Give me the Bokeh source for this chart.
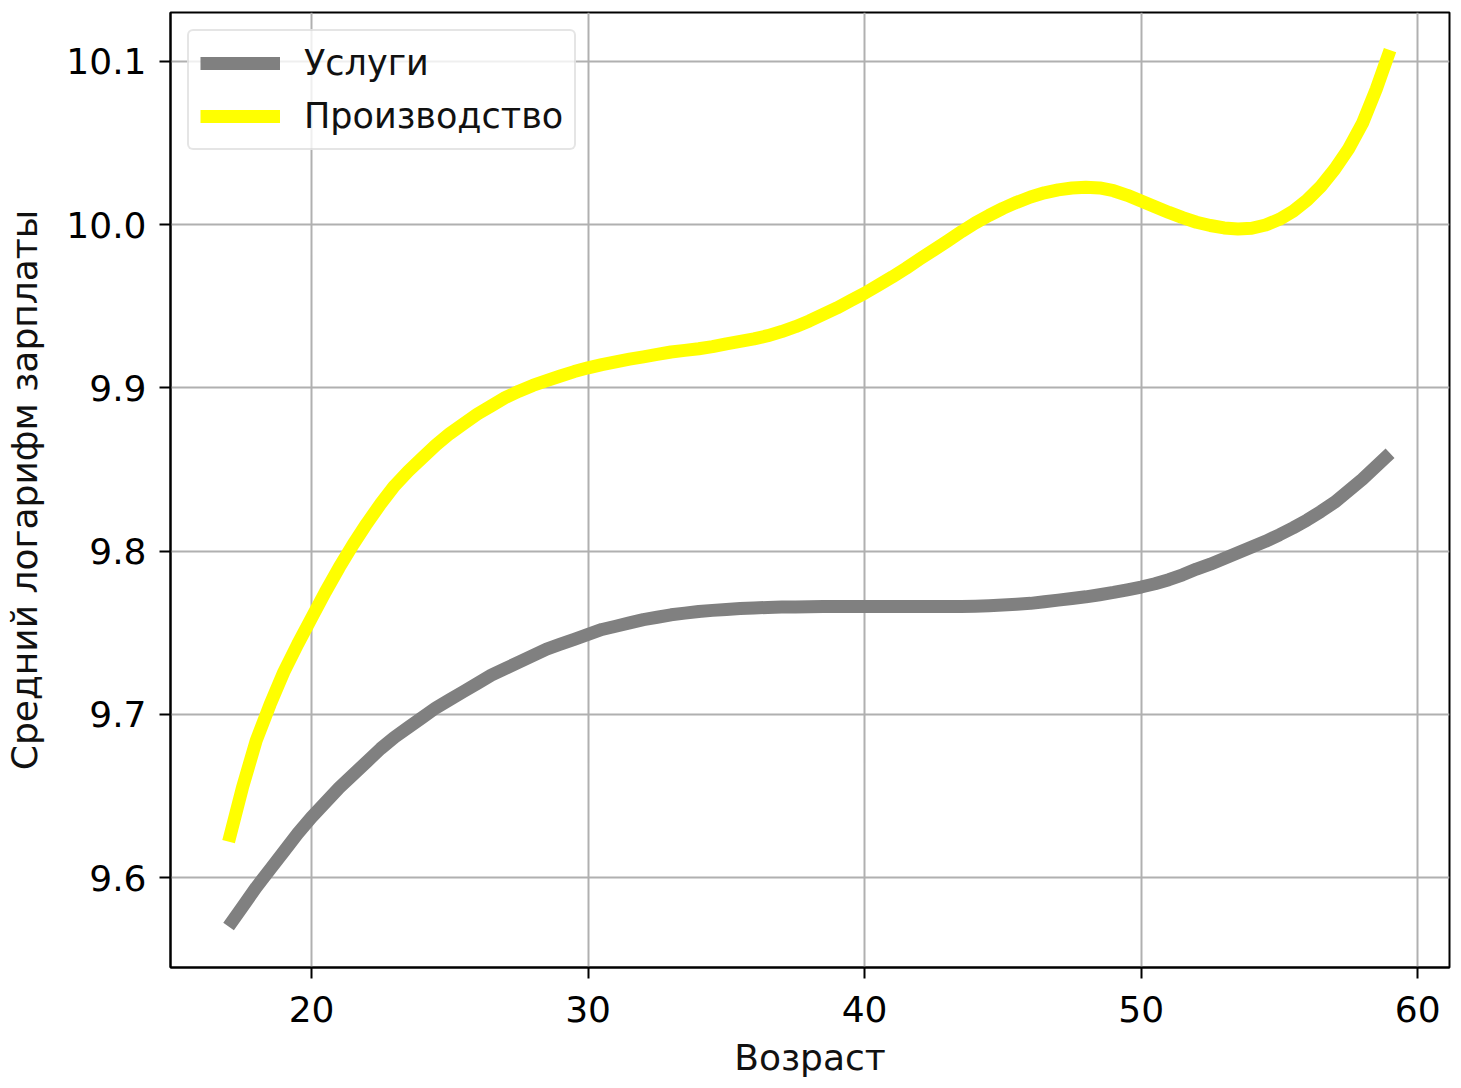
from bokeh.plotting import figure
from bokeh.models import Range1d, FixedTicker, Legend, LegendItem
from bokeh.embed import file_html
from bokeh.resources import INLINE

ages = [17 + 0.5 * i for i in range(85)]
services = [9.570, 9.582, 9.594, 9.605, 9.616, 9.627, 9.637, 9.646, 9.655, 9.663,
            9.671, 9.679, 9.686, 9.692, 9.698, 9.704, 9.709, 9.714, 9.719, 9.724,
            9.728, 9.732, 9.736, 9.740, 9.743, 9.746, 9.749, 9.752, 9.754, 9.756,
            9.758, 9.7595, 9.761, 9.762, 9.763, 9.7637, 9.7643, 9.7648, 9.7652, 9.7655,
            9.7657, 9.7658, 9.7659, 9.766, 9.766, 9.766, 9.766, 9.766, 9.766, 9.766,
            9.766, 9.766, 9.766, 9.7661, 9.7663, 9.7666, 9.767, 9.7675, 9.768, 9.769,
            9.770, 9.771, 9.772, 9.7733, 9.7747, 9.7763, 9.778, 9.780, 9.7825, 9.7855,
            9.789, 9.792, 9.7955, 9.799, 9.8025, 9.806, 9.810, 9.8143, 9.819, 9.8243,
            9.830, 9.837, 9.844, 9.852, 9.860]
manufacturing = [9.622, 9.655, 9.684, 9.706, 9.726, 9.743, 9.759, 9.775, 9.790, 9.804,
                 9.817, 9.829, 9.840, 9.849, 9.857, 9.865, 9.872, 9.878, 9.884, 9.889,
                 9.894, 9.898, 9.9015, 9.9045, 9.9073, 9.91, 9.9123, 9.9143, 9.916, 9.9176,
                 9.919, 9.9205, 9.922, 9.923, 9.924, 9.9253, 9.927, 9.9285, 9.930, 9.932,
                 9.9345, 9.9375, 9.941, 9.945, 9.949, 9.9535, 9.958, 9.963, 9.968, 9.9733,
                 9.979, 9.9845, 9.990, 9.9957, 10.001, 10.0057, 10.010, 10.0137, 10.017, 10.0195,
                 10.0213, 10.0225, 10.023, 10.0225, 10.0208, 10.018, 10.0145, 10.011, 10.0075, 10.0043,
                 10.0015, 9.9995, 9.998, 9.9973, 9.9978, 9.9998, 10.0033, 10.0083, 10.015, 10.0235,
                 10.034, 10.0465, 10.062, 10.083, 10.107]
series_names = ["Услуги", "Производство"]
series_colors = ["#808080", "#ffff00"]
x_ticks = [20, 30, 40, 50, 60]
y_ticks = [9.6, 9.7, 9.8, 9.9, 10.0, 10.1]
y_tick_labels = ["9.6", "9.7", "9.8", "9.9", "10.0", "10.1"]
x_label = "Возраст"
y_label = "Средний логарифм зарплаты"

FONT = "DejaVu Sans"
FS = "36px"

p = figure(width=1453, height=1086, output_backend="svg", toolbar_location=None,
           title=None,
           x_range=Range1d(14.9, 61.15), y_range=Range1d(9.5449, 10.130),
           min_border_left=170, min_border_right=4, min_border_top=12, min_border_bottom=119)
p.background_fill_color = "white"
p.border_fill_color = "white"
p.outline_line_color = "black"
p.outline_line_width = 2

r1 = p.line(ages, services, line_color=series_colors[0], line_width=13, line_join="round")
r2 = p.line(ages, manufacturing, line_color=series_colors[1], line_width=13, line_join="round")

p.xaxis.ticker = FixedTicker(ticks=x_ticks)
p.yaxis.ticker = FixedTicker(ticks=y_ticks)
p.yaxis.major_label_overrides = {t: l for t, l in zip(y_ticks, y_tick_labels)}
p.xaxis.major_label_overrides = {t: str(t) for t in x_ticks}

for ax in (p.xaxis[0], p.yaxis[0]):
    ax.axis_line_color = "black"
    ax.axis_line_width = 2
    ax.major_tick_line_color = "black"
    ax.major_tick_line_width = 2
    ax.major_tick_out = 11
    ax.major_tick_in = 0
    ax.minor_tick_line_color = None
    ax.major_label_text_font = FONT
    ax.major_label_text_font_size = FS
    ax.major_label_text_color = "black"
    ax.axis_label_text_font = FONT
    ax.axis_label_text_font_size = FS
    ax.axis_label_text_font_style = "normal"
    ax.axis_label_text_color = "#111111"

p.xaxis.axis_label = x_label
p.yaxis.axis_label = y_label
p.xaxis.major_label_standoff = 17
p.yaxis.major_label_standoff = 13
p.xaxis.axis_label_standoff = 12
p.yaxis.axis_label_standoff = 18

p.xgrid.ticker = FixedTicker(ticks=x_ticks)
p.ygrid.ticker = FixedTicker(ticks=y_ticks)
for g in (p.xgrid[0], p.ygrid[0]):
    g.grid_line_color = "#b0b0b0"
    g.grid_line_width = 2

legend = Legend(items=[LegendItem(label=series_names[0], renderers=[r1]),
                       LegendItem(label=series_names[1], renderers=[r2])],
                location="top_left")
legend.margin = 17
legend.padding = 11
legend.spacing = 11
legend.glyph_width = 80
legend.glyph_height = 42
legend.label_height = 42
legend.label_standoff = 24
legend.label_text_font = FONT
legend.label_text_font_size = "35px"
legend.label_text_color = "#111111"
legend.border_line_color = "#cccccc"
legend.border_line_width = 2
legend.border_radius = 6
legend.background_fill_color = "white"
legend.background_fill_alpha = 0.8
p.add_layout(legend)

open("out.html", "w").write(file_html(p, INLINE))
